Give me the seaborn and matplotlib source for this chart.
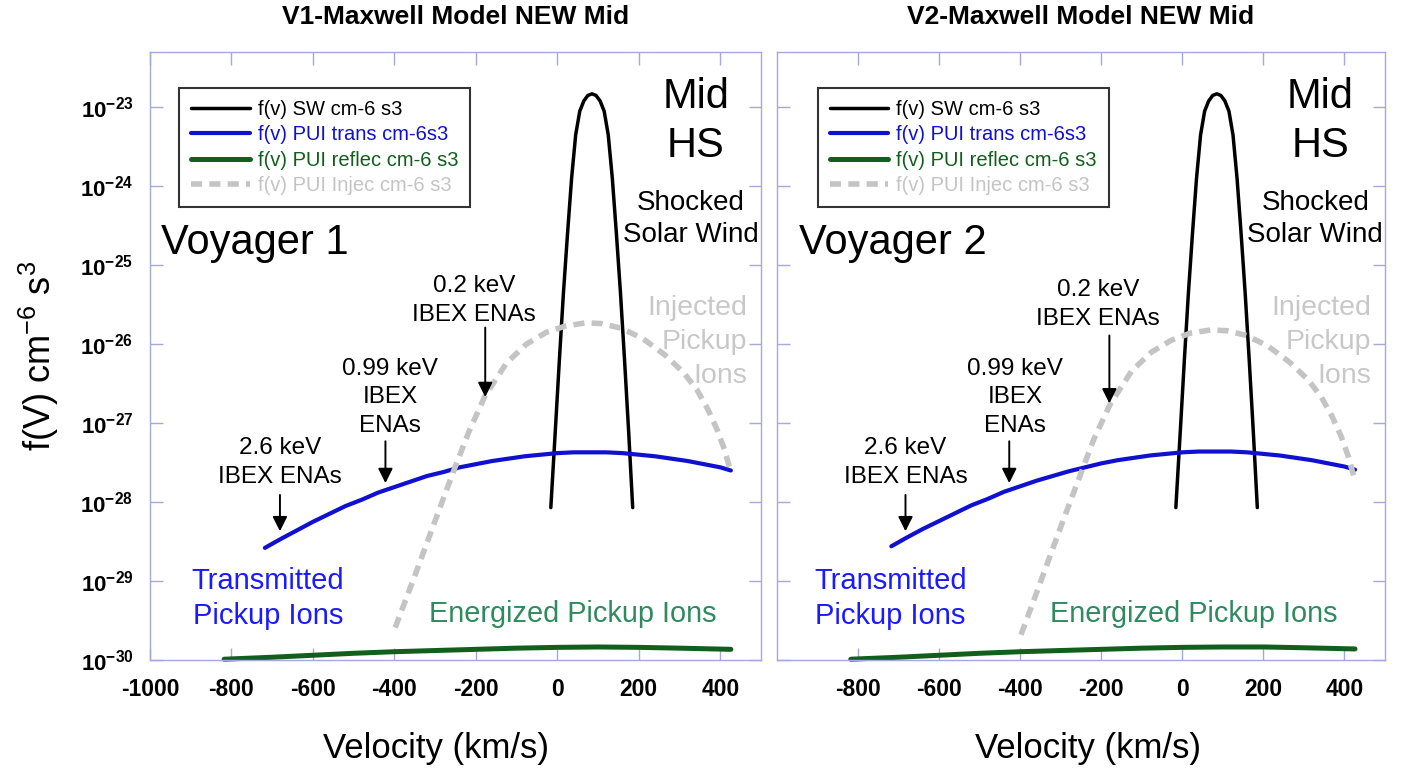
import numpy as np
import pandas as pd
import matplotlib
matplotlib.use("Agg")
import matplotlib.pyplot as plt
import seaborn as sns

# ---------------- data (log10 of f(v) in cm^-6 s^3, velocity in km/s) ----------------
sw_v = [-16, -5, 5, 15, 25, 35, 45, 55, 65, 75, 85, 95, 105, 115, 125, 135, 145, 155, 165, 175, 185]
sw_logf = [-28.07, -27.1, -26.2, -25.35, -24.6, -23.9, -23.35, -23.05, -22.92, -22.85, -22.83,
           -22.85, -22.92, -23.05, -23.35, -23.9, -24.6, -25.35, -26.2, -27.1, -28.07]

trans_v = [-718, -680, -640, -600, -560, -520, -480, -440, -400, -360, -320, -280, -240, -200,
           -160, -120, -80, -40, 0, 40, 80, 120, 160, 200, 240, 280, 320, 360, 400, 426]
v1_trans_logf = [-28.58, -28.47, -28.36, -28.25, -28.15, -28.05, -27.97, -27.88, -27.81, -27.74,
                 -27.67, -27.62, -27.56, -27.52, -27.48, -27.45, -27.42, -27.40, -27.38, -27.37,
                 -27.37, -27.37, -27.38, -27.40, -27.42, -27.45, -27.48, -27.52, -27.56, -27.60]
v2_trans_logf = [-28.56, -28.45, -28.34, -28.24, -28.14, -28.04, -27.96, -27.87, -27.80, -27.73,
                 -27.67, -27.61, -27.56, -27.51, -27.47, -27.44, -27.41, -27.39, -27.37, -27.36,
                 -27.36, -27.36, -27.37, -27.39, -27.41, -27.44, -27.47, -27.51, -27.55, -27.59]

reflec_v = [-818, -700, -600, -500, -400, -300, -200, -100, 0, 100, 200, 300, 426]
v1_reflec_logf = [-29.99, -29.965, -29.94, -29.915, -29.895, -29.88, -29.865, -29.85, -29.84,
                  -29.835, -29.84, -29.85, -29.865]
v2_reflec_logf = [-29.99, -29.965, -29.94, -29.915, -29.895, -29.88, -29.865, -29.85, -29.84,
                  -29.835, -29.835, -29.845, -29.86]

injec_v = [-398, -349, -296, -252, -218, -178, -125, -76, -27, 20, 70, 110, 158, 210, 265, 310,
           343, 370, 392, 410, 426]
v1_injec_logf = [-29.59, -28.92, -28.18, -27.57, -27.12, -26.66, -26.24, -26.0, -25.85, -25.77,
                 -25.73, -25.74, -25.80, -25.93, -26.14, -26.36, -26.58, -26.83, -27.08, -27.33,
                 -27.62]
v2_injec_logf = [-29.68, -29.0, -28.26, -27.66, -27.2, -26.76, -26.34, -26.1, -25.95, -25.86,
                 -25.82, -25.83, -25.89, -26.02, -26.23, -26.45, -26.67, -26.92, -27.17, -27.43,
                 -27.73]

titles = ["V1-Maxwell Model NEW Mid", "V2-Maxwell Model NEW Mid"]
craft = ["Voyager 1", "Voyager 2"]
legend_labels = ["f(v) SW cm-6 s3", "f(v) PUI trans cm-6s3", "f(v) PUI reflec cm-6 s3",
                 "f(v) PUI Injec cm-6 s3"]
x_ticks_v1 = [-1000, -800, -600, -400, -200, 0, 200, 400]
x_ticks_v2 = [-800, -600, -400, -200, 0, 200, 400]
y_exps = [-30, -29, -28, -27, -26, -25, -24, -23]

# ---------------- style ----------------
sns.set_theme(style="white")
plt.rcParams["font.family"] = ["Liberation Sans", "DejaVu Sans"]
plt.rcParams["mathtext.fontset"] = "custom"
plt.rcParams["mathtext.rm"] = "Liberation Sans"
plt.rcParams["mathtext.bf"] = "Liberation Sans:bold"
plt.rcParams["mathtext.it"] = "Liberation Sans:italic"
plt.rcParams["text.color"] = "black"
plt.rcParams["axes.labelcolor"] = "black"
plt.rcParams["xtick.labelcolor"] = "black"
plt.rcParams["ytick.labelcolor"] = "black"

SPINE = "#a6a6e0"
C_SW = "black"
C_TR = "#1010d0"
C_RF = "#125e1c"
C_IN = "#c4c4c4"
C_TR_TXT = "#1a1aff"
C_RF_TXT = "#2e8b5e"
C_IN_TXT = "#c8c8c8"

fig = plt.figure(figsize=(14.16, 7.75), dpi=100)
ax1 = fig.add_axes([150 / 1416, 115 / 775, 611 / 1416, 608 / 775])
ax2 = fig.add_axes([777 / 1416, 115 / 775, 608 / 1416, 608 / 775])


def to_df(v, logf):
    return pd.DataFrame({"v": v, "f": 10.0 ** np.array(logf)})


panels = [
    dict(ax=ax1, trans=v1_trans_logf, reflec=v1_reflec_logf, injec=v1_injec_logf,
         title=titles[0], craft=craft[0], xt=x_ticks_v1, ylab=True, leg_x=0.048,
         craft_x=-972, xlab_x=0.468,
         ann=[(-681, -27.50, -681, -27.91, -28.37, "2.6 keV\nIBEX ENAs"),
              (-411, -26.67, -422, -27.23, -27.76, "0.99 keV\nIBEX\nENAs"),
              (-205, -25.45, -177, -25.79, -26.67, "0.2 keV\nIBEX ENAs")],
         trans_txt=-710, ener_txt=39),
    dict(ax=ax2, trans=v2_trans_logf, reflec=v2_reflec_logf, injec=v2_injec_logf,
         title=titles[1], craft=craft[1], xt=x_ticks_v2, ylab=False, leg_x=0.067,
         craft_x=-945, xlab_x=0.512,
         ann=[(-683, -27.50, -683, -27.91, -28.37, "2.6 keV\nIBEX ENAs"),
              (-413, -26.67, -427, -27.23, -27.76, "0.99 keV\nIBEX\nENAs"),
              (-208, -25.50, -180, -25.89, -26.75, "0.2 keV\nIBEX ENAs")],
         trans_txt=-720, ener_txt=29),
]

for p in panels:
    ax = p["ax"]
    sns.lineplot(data=to_df(sw_v, sw_logf), x="v", y="f", ax=ax, color=C_SW, lw=2.5,
                 label=legend_labels[0], sort=False, estimator=None)
    sns.lineplot(data=to_df(trans_v, p["trans"]), x="v", y="f", ax=ax, color=C_TR, lw=3.0,
                 label=legend_labels[1], sort=False, estimator=None)
    sns.lineplot(data=to_df(reflec_v, p["reflec"]), x="v", y="f", ax=ax, color=C_RF, lw=3.6,
                 label=legend_labels[2], sort=False, estimator=None, clip_on=False)
    sns.lineplot(data=to_df(injec_v, p["injec"]), x="v", y="f", ax=ax, color=C_IN, lw=4.0,
                 label=legend_labels[3], sort=False, estimator=None)
    ax.lines[-1].set_dashes((2.0, 1.3))
    ax.lines[-1].set_dash_capstyle("butt")
    for ln in ax.lines:
        ln.set_solid_joinstyle("round")

    ax.set_yscale("log")
    ax.set_xlim(-1000, 500)
    ax.set_ylim(1e-30, 10 ** -22.3)
    ax.set_xticks(p["xt"])
    ax.set_xticklabels([str(t) for t in p["xt"]], fontweight="bold", fontsize=16.5)
    ax.set_yticks([10.0 ** e for e in y_exps])
    ax.yaxis.set_minor_locator(matplotlib.ticker.NullLocator())
    if p["ylab"]:
        ax.set_yticklabels([r"$\mathbf{10^{%d}}$" % e for e in y_exps], fontsize=16)
        ax.set_ylabel(r"f(V) cm$^{-6}$ s$^{3}$", fontsize=26, labelpad=14)
    else:
        ax.set_yticklabels([])
        ax.set_ylabel("")
    ax.set_xlabel("Velocity (km/s)", fontsize=25)
    ax.xaxis.set_label_coords(p["xlab_x"], -0.118)
    ax.tick_params(axis="both", which="major", direction="in", length=9, width=1.0,
                   color=SPINE, top=True, right=True, bottom=True, left=True)
    ax.tick_params(axis="x", pad=13)
    ax.tick_params(axis="y", pad=12)
    for s in ax.spines.values():
        s.set_color(SPINE)
        s.set_linewidth(1.0)
    ax.set_title(p["title"], fontweight="bold", fontsize=19, pad=20)

    leg = ax.legend(loc="upper left", bbox_to_anchor=(p["leg_x"], 0.941), borderaxespad=0,
                    fontsize=14.5, frameon=True, fancybox=False, edgecolor="black",
                    handlelength=2.9, labelspacing=0.32, borderpad=0.6, handletextpad=0.4)
    leg.get_frame().set_linewidth(1.5)
    for t, c in zip(leg.get_texts(), [C_SW, C_TR, C_RF, C_IN]):
        t.set_color(c)

    ax.text(p["craft_x"], 10 ** -24.72, p["craft"], fontsize=30, ha="left", va="center")
    ax.text(340, 10 ** -23.18, "Mid\nHS", fontsize=30, ha="center", va="center",
            linespacing=1.3)
    ax.text(328, 10 ** -24.42, "Shocked\nSolar Wind", fontsize=20, ha="center",
            va="center", linespacing=1.3)
    ax.text(466, 10 ** -25.97, "Injected\nPickup\nIons", fontsize=20.5, ha="right",
            va="center", multialignment="right", linespacing=1.4, color=C_IN_TXT)
    ax.text(p["trans_txt"], 10 ** -29.22, "Transmitted\nPickup Ions", fontsize=21,
            ha="center", va="center", linespacing=1.3, color=C_TR_TXT)
    ax.text(p["ener_txt"], 10 ** -29.42, "Energized Pickup Ions", fontsize=20.8,
            ha="center", va="center", color=C_RF_TXT)
    for tx, ty, axx, y0, y1, lab in p["ann"]:
        ax.text(tx, 10 ** ty, lab, fontsize=17.5, ha="center", va="center",
                linespacing=1.38)
        ax.annotate("", xy=(axx, 10 ** y1), xytext=(axx, 10 ** y0),
                    arrowprops=dict(arrowstyle="-|>", color="black", lw=1.4,
                                    mutation_scale=22, shrinkA=0, shrinkB=0))

fig.savefig("out.png", dpi=100, facecolor="white")
